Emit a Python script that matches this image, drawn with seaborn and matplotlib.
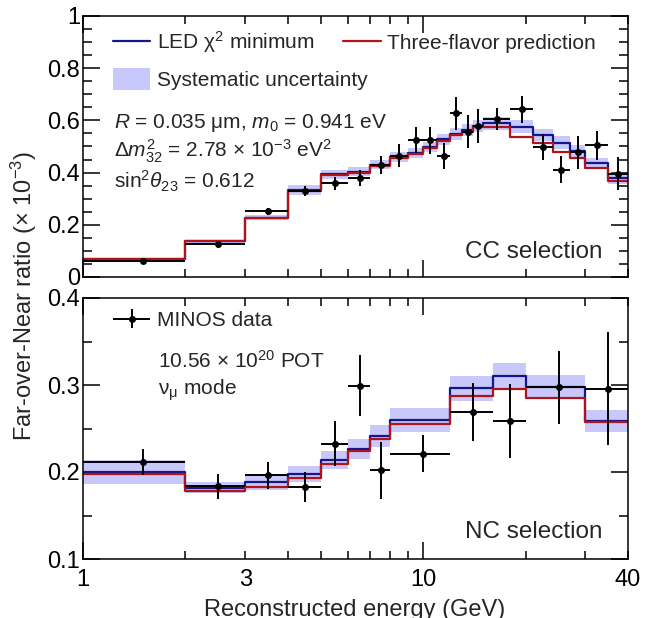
import numpy as np
import matplotlib
matplotlib.use("Agg")
import matplotlib.pyplot as plt
from matplotlib.lines import Line2D
from matplotlib.patches import Patch
from matplotlib.container import ErrorbarContainer
from matplotlib.legend_handler import HandlerErrorbar
import seaborn as sns

# CC selection (top panel)
cc_edges = [1, 2, 3, 4, 5, 6, 7, 8, 9, 10, 11, 12, 13, 14, 15, 18, 21, 24, 27, 30, 35, 40]
cc_led = [0.068, 0.137, 0.227, 0.333, 0.393, 0.404, 0.431, 0.461, 0.476, 0.499, 0.527,
          0.548, 0.563, 0.579, 0.589, 0.576, 0.544, 0.515, 0.484, 0.436, 0.378]
cc_3f = [0.069, 0.139, 0.225, 0.330, 0.390, 0.400, 0.425, 0.455, 0.470, 0.495, 0.522,
         0.543, 0.554, 0.573, 0.573, 0.538, 0.512, 0.480, 0.455, 0.416, 0.369]
cc_syst = [0.004, 0.006, 0.010, 0.018, 0.018, 0.018, 0.019, 0.019, 0.020, 0.020, 0.021,
           0.022, 0.023, 0.024, 0.025, 0.024, 0.024, 0.025, 0.023, 0.021, 0.021]
cc_x = [1.5, 2.5, 3.5, 4.5, 5.5, 6.5, 7.5, 8.5, 9.5, 10.5, 11.5, 12.5, 13.5, 14.5,
        16.5, 19.5, 22.5, 25.5, 28.5, 32.5, 37.5]
cc_y = [0.061, 0.125, 0.252, 0.330, 0.359, 0.379, 0.429, 0.465, 0.526, 0.523, 0.462,
        0.628, 0.556, 0.580, 0.606, 0.642, 0.499, 0.411, 0.478, 0.504, 0.396]
cc_err = [0.005, 0.008, 0.013, 0.018, 0.026, 0.030, 0.036, 0.043, 0.050, 0.051, 0.050,
          0.063, 0.063, 0.065, 0.042, 0.052, 0.049, 0.052, 0.064, 0.054, 0.064]

# NC selection (bottom panel)
nc_edges = [1, 2, 3, 4, 5, 6, 7, 8, 12, 16, 20, 30, 40]
nc_led = [0.200, 0.182, 0.188, 0.198, 0.2135, 0.227, 0.2415, 0.2596, 0.2962, 0.3104, 0.2977, 0.2588]
nc_3f = [0.198, 0.1777, 0.1827, 0.193, 0.2096, 0.2238, 0.2377, 0.255, 0.2877, 0.2954, 0.2846, 0.2569]
nc_syst = [0.0135, 0.0067, 0.0087, 0.0094, 0.0104, 0.0115, 0.0125, 0.0138, 0.0142, 0.0144, 0.0135, 0.0125]
nc_x = [1.5, 2.5, 3.5, 4.5, 5.5, 6.5, 7.5, 10, 14, 18, 25, 35]
nc_y = [0.2115, 0.1835, 0.196, 0.1827, 0.2327, 0.2992, 0.2019, 0.2212, 0.2692, 0.2585, 0.2973, 0.2958]
nc_err = [0.015, 0.0145, 0.016, 0.0177, 0.026, 0.035, 0.033, 0.0215, 0.033, 0.0427, 0.0417, 0.0646]

BLUE = "#16168c"
RED = "#b01418"
BAND = "#c8c8fa"

sns.set_theme(style="ticks")
plt.rcParams["font.family"] = ["Liberation Sans", "DejaVu Sans"]
plt.rcParams["mathtext.fontset"] = "custom"
plt.rcParams["mathtext.rm"] = "Liberation Sans"
plt.rcParams["mathtext.it"] = "Liberation Sans:italic"
plt.rcParams["mathtext.bf"] = "Liberation Sans:bold"
plt.rcParams["axes.linewidth"] = 1.1
plt.rcParams["axes.edgecolor"] = "black"

fig = plt.figure(figsize=(6.53, 6.18), dpi=100)
ax_cc = fig.add_axes([83 / 653, 1 - 277 / 618, 545 / 653, 261 / 618])
ax_nc = fig.add_axes([83 / 653, 1 - 559 / 618, 545 / 653, 261 / 618])


def draw_panel(ax, edges, led, three, syst, x, y, err):
    edges = np.array(edges)
    led = np.array(led)
    three = np.array(three)
    syst = np.array(syst)
    lo = np.append(led - syst, led[-1] - syst[-1])
    hi = np.append(led + syst, led[-1] + syst[-1])
    ax.fill_between(edges, lo, hi, step="post", color=BAND, lw=0)
    sns.lineplot(x=edges, y=np.append(led, led[-1]), drawstyle="steps-post",
                 color=BLUE, lw=1.6, ax=ax, legend=False, estimator=None)
    sns.lineplot(x=edges, y=np.append(three, three[-1]), drawstyle="steps-post",
                 color=RED, lw=1.6, ax=ax, legend=False, estimator=None)
    x = np.array(x)
    xerr = [x - edges[:-1], edges[1:] - x]
    cont = ax.errorbar(x, y, xerr=xerr, yerr=err, fmt="o", color="black", ms=4,
                       elinewidth=1.4, capsize=0, zorder=5)
    ax.set_xscale("log")
    ax.set_xlim(1, 40)
    ax.set_xticks([1, 10], ["1", "10"])
    minor = [2, 3, 4, 5, 6, 7, 8, 9, 20, 30, 40]
    ax.set_xticks(minor, ["3" if m == 3 else "40" if m == 40 else "" for m in minor], minor=True)
    ax.tick_params(which="both", direction="in", top=True, right=True, width=1.1,
                   labelsize=17, colors="black")
    ax.tick_params(axis="y", which="major", length=12.5, pad=2)
    ax.tick_params(axis="y", which="minor", length=6.5)
    ax.tick_params(axis="x", which="major", length=12.5, pad=7)
    ax.tick_params(axis="x", which="minor", length=6, pad=7)
    ax.set_xlabel("")
    ax.set_ylabel("")
    return cont


draw_panel(ax_cc, cc_edges, cc_led, cc_3f, cc_syst, cc_x, cc_y, cc_err)
cont = draw_panel(ax_nc, nc_edges, nc_led, nc_3f, nc_syst, nc_x, nc_y, nc_err)

ax_cc.set_ylim(0, 1)
ax_cc.set_yticks([0, 0.2, 0.4, 0.6, 0.8, 1.0], ["0", "0.2", "0.4", "0.6", "0.8", "1"])
ax_cc.set_yticks(np.arange(0.05, 1.0, 0.05), minor=True)
ax_cc.tick_params(axis="x", which="both", labelbottom=False)

ax_nc.set_ylim(0.1, 0.4)
ax_nc.set_yticks([0.1, 0.2, 0.3, 0.4], ["0.1", "0.2", "0.3", "0.4"])
ax_nc.set_yticks([0.15, 0.25, 0.35], minor=True)

# top legends
h_led = Line2D([], [], color=BLUE, lw=1.6)
h_3f = Line2D([], [], color=RED, lw=1.6)
leg1 = ax_cc.legend([h_led, h_3f], ["LED χ$^{2}$ minimum", "Three-flavor prediction"],
                    ncol=2, loc="upper left", bbox_to_anchor=(0.055, 0.95), frameon=False,
                    fontsize=15, handlelength=1.8, handletextpad=0.3,
                    columnspacing=1.4, borderpad=0, borderaxespad=0)
ax_cc.add_artist(leg1)
ax_cc.legend([Patch(color=BAND, lw=0)], ["Systematic uncertainty"], loc="upper left",
             bbox_to_anchor=(0.055, 0.80), frameon=False, fontsize=15,
             handlelength=1.8, handleheight=1.2, handletextpad=0.3,
             borderpad=0, borderaxespad=0)

ax_cc.text(0.057, 0.570, r"$R$ = 0.035 μm, $m_0$ = 0.941 eV", transform=ax_cc.transAxes,
           fontsize=15, va="baseline")
ax_cc.text(0.057, 0.457, r"Δ$m^2_{32}$ = 2.78 × 10$^{-3}$ eV$^2$", transform=ax_cc.transAxes,
           fontsize=15, va="baseline")
ax_cc.text(0.057, 0.340, r"sin$^2$$\theta_{23}$ = 0.612", transform=ax_cc.transAxes,
           fontsize=15, va="baseline")
ax_cc.text(0.954, 0.074, "CC selection", transform=ax_cc.transAxes, fontsize=17.5,
           ha="right", va="baseline")

# bottom legend
ax_nc.legend([cont], ["MINOS data"], loc="upper left", bbox_to_anchor=(0.055, 0.95),
             frameon=False, fontsize=15, handlelength=1.8, handletextpad=0.3,
             borderpad=0, borderaxespad=0, numpoints=1,
             handler_map={ErrorbarContainer: HandlerErrorbar(xerr_size=0.9, yerr_size=0.45)})
ax_nc.text(0.138, 0.734, r"10.56 × 10$^{20}$ POT", transform=ax_nc.transAxes,
           fontsize=15, va="baseline")
ax_nc.text(0.138, 0.628, r"ν$_{\mathrm{\mu}}$ mode", transform=ax_nc.transAxes,
           fontsize=15, va="baseline")
ax_nc.text(0.954, 0.080, "NC selection", transform=ax_nc.transAxes, fontsize=17.5,
           ha="right", va="baseline")

fig.text(24 / 653, 1 - 296 / 618, r"Far-over-Near ratio (× 10$^{-3}$)", rotation=90,
         ha="center", va="center", fontsize=17)
fig.text(355 / 653, 1 - 616 / 618, "Reconstructed energy (GeV)", ha="center",
         va="baseline", fontsize=17)

fig.savefig("out.png", dpi=100)
